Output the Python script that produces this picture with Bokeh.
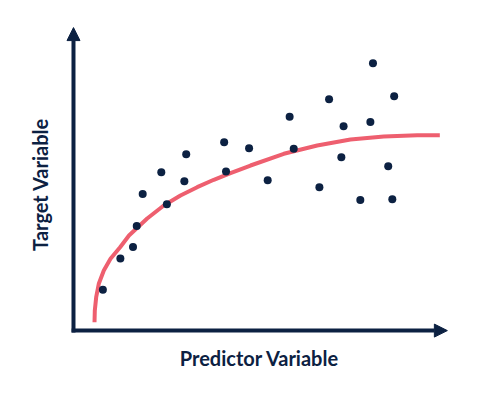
import math
from bokeh.plotting import figure
from bokeh.models import Arrow, NormalHead, Label, Range1d
from bokeh.embed import file_html
from bokeh.resources import INLINE

# Scatter observations (predictor, target)
x_obs = [0.79, 1.26, 1.60, 1.70, 1.86, 2.51, 2.36, 2.98, 3.03, 4.05, 4.10, 4.72,
         5.22, 5.81, 5.92, 6.87, 6.61, 7.26, 7.20, 8.05, 7.98, 8.62, 8.46, 7.71, 8.57]
y_obs = [1.29, 2.33, 2.72, 3.42, 4.48, 4.14, 5.21, 4.91, 5.81, 6.21, 5.23, 6.01,
         4.94, 7.06, 5.99, 7.64, 4.71, 6.74, 5.71, 8.84, 6.88, 7.74, 5.41, 4.28, 4.31]

# Fitted curve
x_fit = [0.565, 0.573, 0.610, 0.680, 0.815, 0.995, 1.253, 1.492, 1.981, 2.427, 2.876,
         3.325, 3.772, 4.220, 4.758, 5.653, 6.551, 7.446, 8.341, 9.239, 9.847]
y_fit = [0.21, 0.60, 1.043, 1.49, 1.933, 2.323, 2.71, 3.10, 3.667, 4.10, 4.433,
         4.71, 4.957, 5.177, 5.433, 5.823, 6.10, 6.30, 6.40, 6.443, 6.443]

x_label = "Predictor Variable"
y_label = "Target Variable"

NAVY = "#0c2142"
RED = "#ee5f6f"

W, H = 467, 380
p = figure(width=W, height=H, output_backend="svg", toolbar_location=None,
           min_border=0, x_range=Range1d(-1.962, 10.591), y_range=Range1d(-1.733, 10.933))
p.axis.visible = False
p.grid.visible = False
p.outline_line_color = None
p.background_fill_color = "white"
p.border_fill_color = "white"

# axes with arrow heads
p.add_layout(Arrow(end=NormalHead(size=13, fill_color=NAVY, line_color=NAVY, line_width=1),
                   x_start=0, y_start=-0.13, x_end=0, y_end=10.03,
                   line_color=NAVY, line_width=4))
p.add_layout(Arrow(end=NormalHead(size=13, fill_color=NAVY, line_color=NAVY, line_width=1),
                   x_start=-0.05, y_start=-0.07, x_end=10.05, y_end=-0.07,
                   line_color=NAVY, line_width=4))

p.line(x_fit, y_fit, line_color=RED, line_width=4, line_cap="butt", line_join="round")
p.scatter(x_obs, y_obs, size=8, fill_color=NAVY, line_color=NAVY, line_width=0)

p.add_layout(Label(x=5.0, y=-0.99, text=x_label, text_font="Lato", text_font_style="bold",
                   text_font_size="20px", text_color=NAVY, text_align="center",
                   text_baseline="middle"))
p.add_layout(Label(x=-0.887, y=4.8, text=y_label, text_font="Lato", text_font_style="bold",
                   text_font_size="20px", text_color=NAVY, text_align="center",
                   text_baseline="middle", angle=math.pi / 2))

open("out.html", "w").write(file_html(p, INLINE))
